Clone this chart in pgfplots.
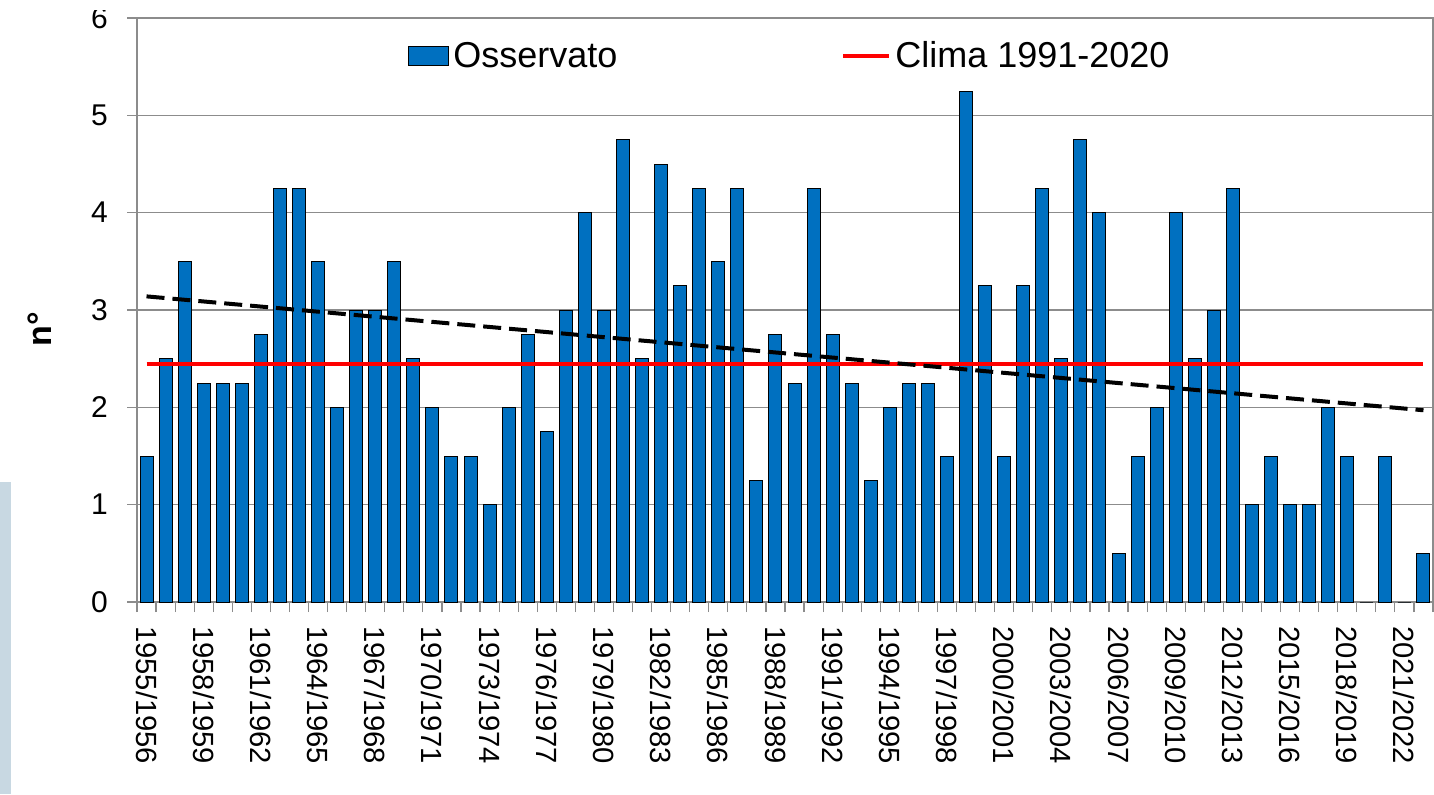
\documentclass[border=0pt]{standalone}
\usepackage{pgfplots}
\pgfplotsset{compat=1.18}
\usepackage{fontspec}
\setmainfont{Liberation Sans}
\definecolor{barblue}{RGB}{0,112,192}
\definecolor{gridgray}{RGB}{140,140,140}
\definecolor{sidebox}{RGB}{200,216,226}
\begin{document}
\begin{tikzpicture}
\useasboundingbox (0,0) rectangle (717pt,397pt);
\clip (0,0) rectangle (717pt,397pt);
\fill[white] (0,0) rectangle (717pt,397pt);
\fill[sidebox] (0,0) rectangle (5.5pt,156pt);
\begin{axis}[
  at={(68.5pt,96pt)}, anchor=south west,
  scale only axis, width=648pt, height=292pt,
  xmin=-0.5, xmax=67.5, ymin=0, ymax=6,
  xtick pos=bottom, ytick pos=left,
  ytick={0,1,...,6},
  /pgf/number format/assume math mode=true,
  yticklabel style={font=\fontsize{15}{18}\selectfont, xshift=-6pt},
  ymajorgrids, grid style={gridgray, line width=0.6pt},
  axis line style={gridgray, line width=0.6pt},
  tick style={gridgray, line width=0.6pt},
  tick align=outside, major tick length=5pt,
  xtick={-0.5,0.5,...,67.5}, xticklabels={},
  extra x ticks={0,3,...,66},
  extra x tick labels={1955/1956,1958/1959,1961/1962,1964/1965,1967/1968,1970/1971,1973/1974,1976/1977,1979/1980,1982/1983,1985/1986,1988/1989,1991/1992,1994/1995,1997/1998,2000/2001,2003/2004,2006/2007,2009/2010,2012/2013,2015/2016,2018/2019,2021/2022},
  extra x tick style={major tick length=0pt, grid=none,
    tick label style={rotate=-90, anchor=west, font=\fontsize{14.6}{17}\selectfont, xshift=8.5pt}},
  ylabel={\textbf{n°}},
  ylabel style={at={(axis description cs:-0.075,0.467)}, anchor=center, rotate=0, font=\fontsize{17}{20}\selectfont},
  legend columns=2,
  legend style={draw=none, fill=none, at={(axis description cs:0.5046,0.935)}, anchor=center,
    font=\fontsize{18}{21}\selectfont,
    /tikz/every even column/.append style={column sep=110pt}},
  clip=false,
]
\addplot[ybar, bar width=6.5pt, fill=barblue, draw=black, line width=0.5pt,
  legend image code/.code={\draw[fill=barblue, draw=black, line width=0.5pt] (0pt,-4.75pt) rectangle (20pt,4.75pt);}]
coordinates {
(0,1.5)(1,2.5)(2,3.5)(3,2.25)(4,2.25)(5,2.25)(6,2.75)(7,4.25)(8,4.25)(9,3.5)
(10,2.0)(11,3.0)(12,3.0)(13,3.5)(14,2.5)(15,2.0)(16,1.5)(17,1.5)(18,1.0)(19,2.0)
(20,2.75)(21,1.75)(22,3.0)(23,4.0)(24,3.0)(25,4.75)(26,2.5)(27,4.5)(28,3.25)(29,4.25)
(30,3.5)(31,4.25)(32,1.25)(33,2.75)(34,2.25)(35,4.25)(36,2.75)(37,2.25)(38,1.25)(39,2.0)
(40,2.25)(41,2.25)(42,1.5)(43,5.25)(44,3.25)(45,1.5)(46,3.25)(47,4.25)(48,2.5)(49,4.75)
(50,4.0)(51,0.5)(52,1.5)(53,2.0)(54,4.0)(55,2.5)(56,3.0)(57,4.25)(58,1.0)(59,1.5)
(60,1.0)(61,1.0)(62,2.0)(63,1.5)(64,0)(65,1.5)(66,0)(67,0.5)
};
\addlegendentry{Osservato}
\addplot[red, line width=2pt,
  legend image code/.code={\draw[red, line width=2pt] (0pt,0pt) -- (23pt,0pt);}]
coordinates {(0,2.45)(67,2.45)};
\addlegendentry{Clima 1991-2020}
\addplot[black, line width=2pt, dash pattern=on 9pt off 4pt, forget plot]
coordinates {(0,3.14)(67,1.97)};
\end{axis}
\fill[white] (0,392pt) rectangle (66pt,397pt);
\end{tikzpicture}
\end{document}
